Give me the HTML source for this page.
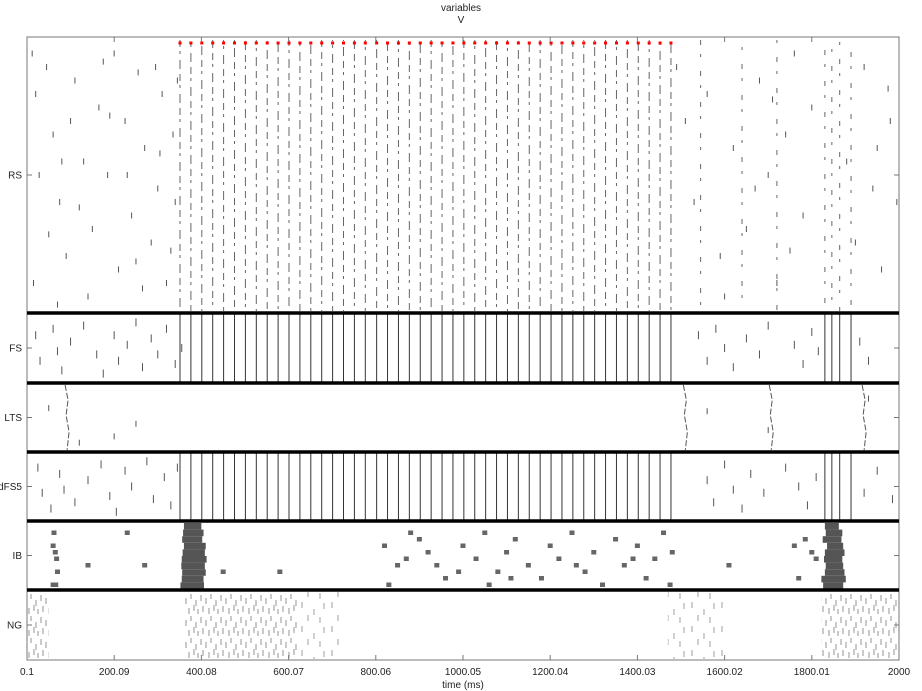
<!DOCTYPE html>
<html><head><meta charset="utf-8"><style>
body{margin:0;background:#fff;width:922px;height:691px;overflow:hidden}
svg{display:block}
text{font-family:"Liberation Sans",sans-serif;font-size:10px;fill:#222}
</style></head><body>
<svg id="chart" width="922" height="691" viewBox="0 0 922 691">
<defs>
<pattern id="ngDensePat" patternUnits="userSpaceOnUse" width="20" height="22">
<path d="M1 1v6M6 4v6M11 0v5M16 6v6M3 12v6M9 14v6M14 11v6M18 15v5" stroke="#666" stroke-width="0.7"/>
</pattern>
<pattern id="ngSparsePat" patternUnits="userSpaceOnUse" width="30" height="24">
<path d="M2 2v6M14 9v6M24 3v6M8 15v6M20 17v6" stroke="#777" stroke-width="0.7"/>
</pattern>
</defs>
<text x="461" y="11" text-anchor="middle">variables</text>
<text x="461" y="23" text-anchor="middle">V</text>
<g id="marks"></g>
<g id="axes"></g>
<text x="463" y="688" text-anchor="middle">time (ms)</text>
</svg>
<script>
const gammaTimes=[351,376,401,426,451,476,501,526,551,576,601,626,651,676,701,726,751,776,802,827,852,877,902,927,952,977,1002,1027,1052,1077,1102,1127,1152,1177,1202,1227,1252,1277,1302,1327,1352,1377,1402,1427,1452,1477];
const rsPostVolleys=[1545,1640,1720,1830,1846,1864,1890];
const fsPostVolleys=[1830,1846,1864,1890];
const ltsVolleys=[92,1510,1707,1920];
const rsScatter=[[12,.05],[20,.2],[45,.1],[60,.35],[75,.6],[90,.8],[15,.9],[110,.15],[130,.45],[150,.7],[165,.25],[185,.5],[200,.05],[210,.85],[225,.3],[240,.65],[255,.12],[270,.4],[285,.75],[300,.55],[310,.2],[320,.9],[335,.35],[340,.6],[28,.5],[50,.72],[100,.3],[140,.95],[175,.08],[230,.5],[265,.92],[295,.1],[330,.78],[80,.45],[120,.62],[190,.28],[250,.82],[305,.42],[345,.15],[70,.98],[1490,.1],[1510,.3],[1530,.6],[1560,.2],[1590,.8],[1620,.4],[1650,.7],[1680,.15],[1700,.5],[1720,.9],[1740,.35],[1760,.05],[1780,.65],[1800,.25],[1880,.45],[1900,.75],[1920,.1],[1940,.55],[1960,.85],[1980,.3],[1995,.6],[1600,.95],[1670,.55],[1710,.22],[1750,.78],[1950,.4],[1975,.18]];
const fsScatter=[[20,.3],[30,.7],[60,.2],[70,.55],[80,.85],[100,.4],[130,.15],[160,.6],[175,.9],[200,.3],[210,.7],[230,.45],[250,.1],[265,.8],[285,.35],[300,.6],[320,.2],[340,.75],[355,.5],[1540,.3],[1560,.7],[1580,.2],[1600,.5],[1620,.8],[1650,.35],[1680,.6],[1700,.15],[1760,.45],[1780,.75],[1800,.25],[1815,.55],[1910,.4],[1930,.7]];
const dfsScatter=[[25,.2],[35,.6],[55,.85],[75,.3],[85,.55],[110,.75],[140,.4],[170,.15],[190,.65],[205,.9],[225,.25],[240,.5],[275,.1],[290,.7],[315,.35],[330,.8],[345,.2],[1560,.4],[1575,.75],[1600,.15],[1620,.55],[1640,.85],[1660,.3],[1690,.6],[1740,.2],[1770,.5],[1790,.8],[1810,.35],[1920,.6],[1950,.25],[1985,.7]];
const ltsScatter=[[50,.35],[250,.6],[200,.8],[120,.9],[1560,.4],[1700,.7],[1930,.2]];
const ibBlob1=[[360,400],[358,405],[356,402],[360,410],[357,408],[355,412],[354,408],[356,410],[355,405],[352,406]];
const ibBlob2=[[1830,1862],[1832,1870],[1825,1868],[1835,1872],[1830,1875],[1828,1870],[1832,1872],[1830,1875],[1822,1878],[1826,1872]];
const ibScatter=[[62,1],[60,3],[65,4],[68,5],[70,7],[60,9],[66,9],[230,1],[270,6],[140,6],[450,7],[580,7],[820,3],[830,9],[850,6],[880,1],[900,2],[920,4],[940,6],[960,8],[1000,3],[1030,5],[1050,1],[1060,9],[1080,7],[1100,4],[1120,2],[1150,6],[1180,8],[1200,3],[1220,5],[1250,1],[1280,7],[1300,4],[1320,9],[1350,2],[1370,6],[1400,3],[1420,8],[1440,5],[1460,1],[1475,9],[1480,4],[1610,6],[1760,3],[1785,2],[1800,4],[1770,8],[1810,5],[870,5],[990,7],[1110,8],[1260,6],[1390,5]];
const ngDense=[[0,50],[360,620],[1822,1995]];
const ngSparse=[[620,720],[1470,1600]];
const xTicks=[0.1,200.09,400.08,600.07,800.06,1000.05,1200.04,1400.03,1600.02,1800.01,2000];
const panelNames=["RS","FS","LTS","dFS5","IB","NG"];
const panelTops=[37,313,383,452,521,590,660];

const X0=27,X1=899;
function xs(t){return X0+(t-0.1)/(1999.9)*(X1-X0);}
function py(p,f){const a=panelTops[p]+3,b=panelTops[p+1]-3;return a+f*(b-a);}
const NS="http://www.w3.org/2000/svg";
const marks=document.getElementById('marks'),axes=document.getElementById('axes');
function mk(tag,attrs,parent){const e=document.createElementNS(NS,tag);for(const k in attrs)e.setAttribute(k,attrs[k]);(parent||marks).appendChild(e);return e;}

ngDense.forEach(b=>{const r=mk('rect',{x:xs(b[0]),y:592,width:xs(b[1])-xs(b[0]),height:67,fill:'url(#ngDensePat)'});

});
ngSparse.forEach(b=>{const r=mk('rect',{x:xs(b[0]),y:592,width:xs(b[1])-xs(b[0]),height:67,fill:'url(#ngSparsePat)'});

});

gammaTimes.concat(rsPostVolleys).forEach((t,i)=>{const post=i>=gammaTimes.length;
const l=mk('line',{x1:xs(t),x2:xs(t),y1:40,y2:311,stroke:'#666','stroke-width':1,'stroke-dasharray':post?'5 9 3 14':'7 4 3 6 9 5','stroke-dashoffset':(i*7)%23});

});
gammaTimes.forEach(t=>{const r=mk('rect',{x:xs(t)-1.5,y:41.5,width:3,height:3,fill:'#f00'});

});
function ticks(arr,p,h,nm){arr.forEach(d=>{const y=py(p,d[1]);const l=mk('line',{x1:xs(d[0]),x2:xs(d[0]),y1:y-h/2,y2:y+h/2,stroke:'#555','stroke-width':1});

});}
ticks(rsScatter,0,6,'rs-spike');
ticks(fsScatter,1,8,'fs-spike');
ticks(ltsScatter,2,6,'lts-spike');
ticks(dfsScatter,3,8,'dfs5-spike');
[1,3].forEach(p=>{gammaTimes.concat(fsPostVolleys).forEach(t=>{const l=mk('line',{x1:xs(t),x2:xs(t),y1:panelTops[p]+1,y2:panelTops[p+1]-1,stroke:'#333','stroke-width':1});

});});
ltsVolleys.forEach(t=>{const x=xs(t);const l=mk('polyline',{points:`${x-2},385 ${x+1},400 ${x-1},415 ${x+2},432 ${x},450`,fill:'none',stroke:'#555','stroke-width':1,'stroke-dasharray':'6 2'});

});
[ibBlob1,ibBlob2].forEach(bl=>bl.forEach((r,i)=>{const y=523+i*6.6;const e=mk('rect',{x:xs(r[0]),y:y,width:xs(r[1])-xs(r[0]),height:6.6,fill:'#555'});

}));
ibScatter.forEach(d=>{const y=524+d[1]*6.5;const e=mk('rect',{x:xs(d[0])-2.5,y:y,width:5,height:4.5,fill:'#666'});

});

const box=mk('rect',{x:X0,y:37,width:X1-X0,height:623,fill:'none',stroke:'#777','stroke-width':1},axes);


[1,2,3,4,5].forEach(p=>{const l=mk('line',{x1:X0,x2:X1,y1:panelTops[p],y2:panelTops[p],stroke:'#000','stroke-width':3.5},axes);

});
panelNames.forEach((n,p)=>{const yc=(panelTops[p]+panelTops[p+1])/2;
const t=mk('text',{x:22,y:yc+3.5,'text-anchor':'end'},axes);t.textContent=n;


const tk=mk('line',{x1:X0,x2:X0+5,y1:yc,y2:yc,stroke:'#777'},axes);


const tk2=mk('line',{x1:X1-5,x2:X1,y1:yc,y2:yc,stroke:'#777'},axes);

});
xTicks.forEach(v=>{const x=xs(v);
const tk=mk('line',{x1:x,x2:x,y1:655,y2:660,stroke:'#777'},axes);


const tk2=mk('line',{x1:x,x2:x,y1:37,y2:42,stroke:'#777'},axes);


const t=mk('text',{x:x,y:675,'text-anchor':'middle'},axes);t.textContent=String(v);

});
</script>
</body></html>
